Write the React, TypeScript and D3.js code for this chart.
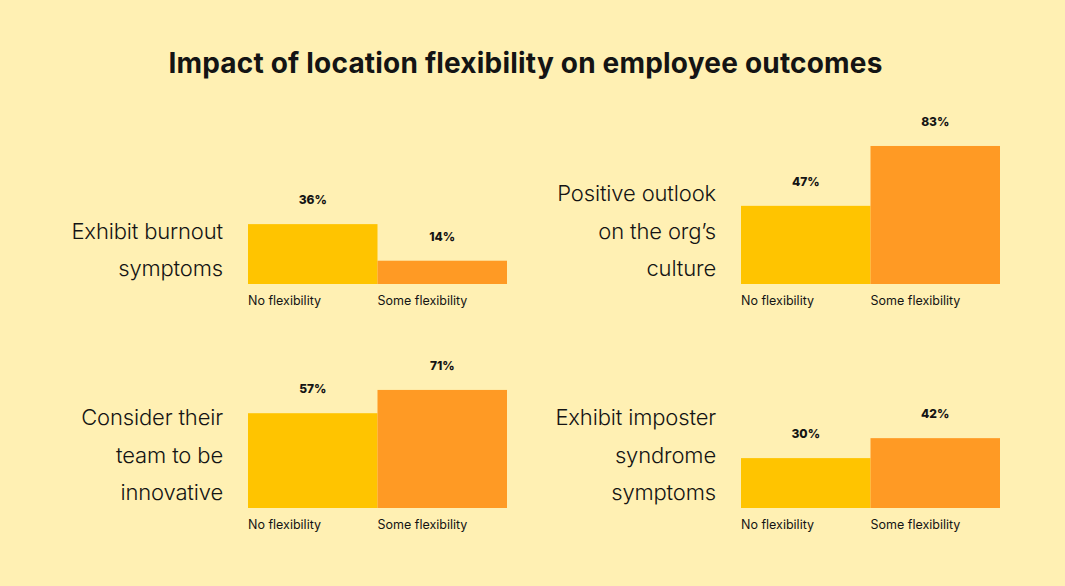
import { useEffect } from "react";
import * as d3 from "d3";

const title = "Impact of location flexibility on employee outcomes";
const categories = ["No flexibility", "Some flexibility"];
const outcomes = [
  ["Exhibit burnout", "symptoms"],
  ["Positive outlook", "on the org’s", "culture"],
  ["Consider their", "team to be", "innovative"],
  ["Exhibit imposter", "syndrome", "symptoms"],
];
const noFlex = [36, 47, 57, 30];
const someFlex = [14, 83, 71, 42];

const W = 1065, H = 586;
const BG = "#FFF0B3";
const INK = "#141414";
const colors = ["#FFC400", "#FF9A24"];
const FONT = "Inter, 'Noto Sans', sans-serif";

// panel origins: bar-group left edge and baseline
const cols = [248, 741];
const rows = [284, 508];
const groupW = 259;

export default function App() {
  useEffect(() => {
    document.body.style.margin = "0";
  }, []);

  const x = d3.scaleBand<string>().domain(categories).range([0, groupW]).padding(0);
  const y = d3.scaleLinear().domain([0, 100]).range([0, 166.3]);
  const lineGap = 37.5;

  return (
    <svg width={W} height={H} style={{ display: "block", background: BG }}>
      <rect width={W} height={H} fill={BG} />
      <text x={525.5} y={73} textAnchor="middle" fontFamily={FONT} fontWeight={700}
        fontSize={28} fill={INK} letterSpacing={0.2}>
        {title}
      </text>
      {outcomes.map((lines, i) => {
        const ox = cols[i % 2];
        const oy = rows[Math.floor(i / 2)];
        const vals = [noFlex[i], someFlex[i]];
        return (
          <g key={i} transform={`translate(${ox},${oy})`}>
            {lines.map((ln, j) => (
              <text key={j} x={-25} y={-8 - (lines.length - 1 - j) * lineGap} textAnchor="end"
                fontFamily={FONT} fontWeight={300} fontSize={22} fill={INK} letterSpacing={-0.15}>
                {ln}
              </text>
            ))}
            {categories.map((c, k) => (
              <g key={c}>
                <rect x={x(c)} y={-y(vals[k])} width={x.bandwidth()} height={y(vals[k])} fill={colors[k]} />
                <text x={(x(c) ?? 0) + x.bandwidth() / 2} y={-y(vals[k]) - 20} textAnchor="middle"
                  fontFamily={FONT} fontWeight={800} fontSize={12} fill={INK}>
                  {vals[k]}%
                </text>
                <text x={x(c)} y={21} fontFamily={FONT} fontWeight={400} fontSize={12.5} fill={INK}>
                  {c}
                </text>
              </g>
            ))}
          </g>
        );
      })}
    </svg>
  );
}
